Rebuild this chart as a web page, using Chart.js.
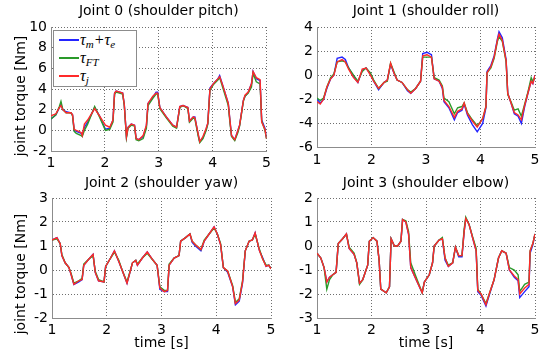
<!DOCTYPE html>
<html>
<head>
<meta charset="utf-8">
<script src="https://cdn.jsdelivr.net/npm/chart.js@4.4.1/dist/chart.umd.min.js"></script>
<style>
  body { margin: 0; background: #fff; }
  #fig { position: relative; width: 550px; height: 360px; background: #fff; overflow: hidden; }
  #fig canvas { position: absolute; }
  #legend {
    position: absolute; left: 53px; top: 30px; width: 82px; height: 55px;
    border: 1px solid #8c8c8c; background: #fff;
    font: italic 16px "Liberation Serif", serif; color: #000;
  }
  #legend .row { position: absolute; left: 0; height: 18px; line-height: 18px; white-space: nowrap; }
  #legend .swatch { position: absolute; left: 5px; top: 8px; width: 20px; border-top: 2px solid; }
  #legend .lbl { position: absolute; left: 26px; top: 0; }
  #legend sub { font-size: 11px; vertical-align: -3px; line-height: 0; }
</style>
</head>
<body>
<div id="fig">
  <canvas id="c0" width="275" height="180" style="left:0;top:0"></canvas>
  <canvas id="c1" width="275" height="180" style="left:275px;top:0"></canvas>
  <canvas id="c2" width="280" height="190" style="left:0;top:170px"></canvas>
  <canvas id="c3" width="275" height="190" style="left:275px;top:170px"></canvas>
  <div id="legend">
    <div class="row" style="top:0"><span class="swatch" style="border-color:#2424ff"></span><span class="lbl">τ<sub>m</sub>+τ<sub>e</sub></span></div>
    <div class="row" style="top:18px"><span class="swatch" style="border-color:#2a9a2a"></span><span class="lbl">τ<sub>FT</sub></span></div>
    <div class="row" style="top:36px"><span class="swatch" style="border-color:#ff2a2a"></span><span class="lbl">τ<sub>j</sub></span></div>
  </div>
</div>
<script>
// ── values ────────────────────────────────────────────────────────
const xTicks = [1, 2, 3, 4, 5];

// Joint 0 (shoulder pitch)
const t0 = [1.00,1.09,1.155,1.185,1.22,1.28,1.37,1.40,1.43,1.47,1.56,1.58,1.62,1.68,1.81,1.90,2.01,2.09,2.15,2.18,
            2.21,2.33,2.36,2.40,2.43,2.49,2.55,2.58,2.63,2.71,2.77,2.80,2.89,2.95,2.98,3.02,3.14,3.26,3.33,3.39,
            3.45,3.54,3.57,3.64,3.67,3.73,3.76,3.82,3.88,3.91,3.95,4.01,4.10,4.13,4.19,4.29,4.32,4.35,4.41,4.47,
            4.50,4.57,4.60,4.66,4.72,4.75,4.81,4.88,4.91,4.97,5.00];
const blue0 = [1.1,1.5,2.2,2.5,2.0,1.8,1.7,1.5,0.0,-0.1,-0.3,-0.5,0.3,0.8,2.2,1.4,0.1,0.2,1.0,3.6,
               3.8,3.6,2.5,-0.6,0.3,0.6,0.5,-0.8,-0.9,-0.6,0.4,2.6,3.2,3.7,3.7,2.2,1.3,0.5,0.3,2.3,
               2.4,2.2,0.9,1.3,1.3,-0.4,-1.1,-0.7,0.1,0.7,4.1,4.5,5.0,5.3,4.3,2.6,1.0,-0.5,-0.9,0.0,
               0.5,2.9,3.3,3.7,4.5,5.7,5.0,4.8,1.0,0.2,-0.7];
const green0 = [1.1,1.5,2.3,2.8,2.0,1.7,1.7,1.4,-0.1,-0.3,-0.5,-0.6,0.0,0.6,2.3,1.3,0.0,0.1,0.8,3.5,
                3.7,3.5,2.4,-0.7,0.2,0.5,0.4,-0.9,-1.0,-0.8,0.2,2.4,3.1,3.5,3.5,2.1,1.2,0.4,0.2,2.2,
                2.4,2.1,0.8,1.2,1.1,-0.5,-1.2,-0.8,0.0,0.6,3.9,4.4,4.9,5.1,4.1,2.4,0.8,-0.6,-1.0,-0.2,
                0.4,2.8,3.3,3.6,4.2,5.5,4.7,4.5,0.9,0.0,-0.8];
const red0 = [1.4,1.6,2.2,2.4,2.0,1.7,1.7,1.5,0.1,0.0,-0.2,-0.5,0.6,1.0,2.1,1.4,0.5,0.3,1.0,3.6,
              3.8,3.6,2.5,-0.6,0.3,0.6,0.5,-0.8,-0.9,-0.5,0.5,2.6,3.3,3.6,3.6,2.2,1.3,0.5,0.3,2.3,
              2.4,2.2,0.9,1.3,1.2,-0.3,-1.1,-0.6,0.2,0.7,4.0,4.5,5.0,5.2,4.3,2.6,1.0,-0.5,-0.9,0.0,
              0.5,2.9,3.4,3.7,4.5,5.7,5.1,4.9,0.8,0.1,-0.8];

// Joint 1 (shoulder roll)
const t1 = [1.00,1.06,1.12,1.18,1.25,1.31,1.37,1.46,1.52,1.58,1.67,1.75,1.83,1.90,1.98,2.04,2.13,2.23,2.29,2.35,
            2.41,2.47,2.56,2.66,2.72,2.81,2.90,2.94,3.02,3.10,3.15,3.24,3.30,3.33,3.42,3.52,3.58,3.66,3.70,3.76,
            3.85,3.94,4.04,4.10,4.12,4.19,4.25,4.31,4.34,4.40,4.47,4.50,4.56,4.62,4.69,4.75,4.81,4.87,4.93,4.96,
            5.00];
const blue1 = [-2.0,-2.3,-2.0,-1.1,-0.3,0.0,1.4,1.5,1.3,0.6,-0.1,-0.6,0.4,0.6,0.1,-0.5,-1.2,-0.6,-0.4,0.9,
               0.2,-0.4,-0.6,-1.3,-1.5,-1.1,-0.5,1.8,1.9,1.7,-0.3,-0.5,-1.1,-2.2,-2.7,-3.7,-3.1,-2.9,-2.4,-3.3,
               -4.1,-4.7,-4.0,-2.7,0.3,0.8,1.6,3.0,3.6,3.1,1.3,-1.5,-2.3,-3.2,-3.4,-4.0,-2.6,-1.5,-0.5,-0.7,
               0.0];
const green1 = [-1.9,-2.1,-1.9,-1.0,-0.2,0.1,1.1,1.2,1.1,0.6,0.0,-0.5,0.3,0.6,0.2,-0.4,-1.1,-0.6,-0.5,1.0,
                0.3,-0.4,-0.6,-1.2,-1.4,-1.1,-0.5,1.5,1.5,1.5,-0.2,-0.4,-0.9,-1.9,-2.2,-3.2,-2.7,-2.6,-2.3,-3.1,
                -3.7,-4.2,-3.6,-2.6,0.2,0.6,1.4,2.8,3.2,2.8,1.1,-1.6,-2.2,-2.9,-2.8,-3.4,-2.4,-1.4,-0.2,-0.5,
                -0.2];
const red1 = [-2.2,-2.4,-2.0,-1.0,-0.3,0.0,1.1,1.3,1.1,0.5,-0.2,-0.6,0.5,0.6,0.0,-0.5,-1.1,-0.6,-0.4,1.0,
              0.2,-0.4,-0.6,-1.2,-1.5,-1.1,-0.5,1.6,1.7,1.5,-0.3,-0.5,-1.0,-2.1,-2.6,-3.5,-3.0,-2.8,-2.3,-3.2,
              -3.8,-4.3,-3.6,-2.6,0.2,0.7,1.5,2.9,3.4,2.9,1.2,-1.5,-2.3,-3.1,-3.3,-3.7,-2.5,-1.5,-0.5,-0.7,
              0.0];

// Joint 2 (shoulder yaw)
const t2 = [1.00,1.09,1.15,1.18,1.24,1.31,1.35,1.40,1.49,1.55,1.58,1.67,1.75,1.79,1.85,1.95,1.98,2.07,2.14,2.22,
            2.28,2.37,2.47,2.53,2.56,2.65,2.74,2.83,2.92,2.97,3.05,3.11,3.14,3.23,3.32,3.35,3.44,3.52,3.56,3.62,
            3.72,3.78,3.87,3.96,4.02,4.08,4.13,4.21,4.30,4.35,4.42,4.48,4.53,4.60,4.66,4.71,4.79,4.85,4.91,4.96,
            5.00];
const blue2 = [1.25,1.35,1.1,0.6,0.3,0.1,-0.2,-0.6,-0.5,-0.4,0.2,0.45,0.65,-0.1,-0.45,-0.5,0.15,0.5,0.8,0.35,
               0.0,-0.55,0.3,0.4,0.2,0.5,0.75,0.45,0.2,-0.8,-0.9,-0.9,0.2,0.5,0.6,1.2,1.35,1.5,1.15,1.0,
               0.8,1.2,1.5,1.8,1.5,1.05,0.1,-0.1,-0.7,-1.45,-1.3,-0.55,0.8,1.2,1.25,1.55,0.8,0.5,0.15,0.2,
               0.05];
const green2 = [1.25,1.3,1.1,0.65,0.3,0.1,-0.15,-0.55,-0.45,-0.35,0.25,0.45,0.6,-0.05,-0.4,-0.5,0.15,0.5,0.75,0.4,
                0.0,-0.5,0.3,0.4,0.25,0.5,0.7,0.45,0.2,-0.7,-0.85,-0.85,0.25,0.5,0.6,1.2,1.35,1.5,1.2,1.05,
                0.85,1.25,1.5,1.75,1.5,1.1,0.1,-0.05,-0.65,-1.35,-1.2,-0.45,0.8,1.2,1.25,1.5,0.85,0.45,0.2,0.2,
                0.05];
const red2 = [1.25,1.35,1.1,0.6,0.3,0.1,-0.2,-0.6,-0.45,-0.4,0.2,0.45,0.65,-0.1,-0.45,-0.5,0.15,0.5,0.8,0.35,
              0.0,-0.55,0.3,0.4,0.2,0.5,0.75,0.45,0.2,-0.75,-0.9,-0.85,0.2,0.5,0.6,1.2,1.35,1.5,1.2,1.05,
              0.85,1.2,1.5,1.8,1.5,1.05,0.1,-0.05,-0.7,-1.4,-1.25,-0.5,0.8,1.2,1.25,1.55,0.8,0.45,0.15,0.2,
              0.05];

// Joint 3 (shoulder elbow)
const t3 = [1.00,1.07,1.13,1.18,1.23,1.29,1.35,1.39,1.47,1.54,1.59,1.68,1.73,1.78,1.84,1.93,1.96,2.03,2.10,2.14,
            2.17,2.27,2.33,2.36,2.42,2.48,2.54,2.57,2.63,2.68,2.72,2.82,2.93,2.97,3.06,3.12,3.15,3.24,3.30,3.35,
            3.41,3.49,3.54,3.60,3.66,3.70,3.73,3.79,3.86,3.92,3.95,4.01,4.10,4.16,4.25,4.33,4.39,4.47,4.53,4.62,
            4.69,4.72,4.81,4.89,4.91,4.96,5.00];
const blue3 = [-0.3,-0.5,-0.9,-1.5,-1.3,-1.2,-1.1,0.1,0.3,0.5,-0.1,-0.35,-0.7,-1.55,-1.4,-0.8,0.2,0.35,0.2,-0.6,
               -1.8,-1.95,-1.7,0.3,0.0,0.0,0.2,1.1,1.0,0.5,-0.9,-1.4,-1.95,-1.5,-1.2,-0.7,0.0,0.25,0.3,-0.6,
               -0.85,-0.7,-0.05,-0.45,-0.45,0.6,1.15,0.9,0.3,-0.2,-1.9,-2.05,-2.5,-2.05,-1.4,-0.5,-0.2,-0.3,-1.0,-1.3,
               -1.45,-2.15,-1.9,-1.7,-0.3,0.05,0.5];
const green3 = [-0.3,-0.5,-0.9,-1.8,-1.4,-1.2,-1.1,0.1,0.3,0.5,-0.05,-0.3,-0.7,-1.6,-1.4,-0.8,0.2,0.35,0.2,-0.6,
                -1.8,-1.95,-1.7,0.3,0.0,0.0,0.2,1.1,1.05,0.6,-0.7,-1.3,-1.95,-1.5,-1.2,-0.7,0.0,0.25,0.35,-0.5,
                -0.8,-0.7,-0.05,-0.4,-0.4,0.7,1.2,0.9,0.35,-0.1,-1.8,-2.0,-2.4,-2.0,-1.4,-0.5,-0.2,-0.3,-0.9,-1.0,
                -1.2,-1.9,-1.6,-1.5,-0.2,0.1,0.5];
const red3 = [-0.3,-0.5,-0.9,-1.5,-1.3,-1.2,-1.1,0.1,0.3,0.5,-0.1,-0.35,-0.7,-1.55,-1.4,-0.8,0.2,0.35,0.2,-0.6,
              -1.8,-1.95,-1.7,0.3,0.0,0.0,0.2,1.1,1.0,0.5,-0.9,-1.4,-1.95,-1.5,-1.2,-0.7,0.0,0.25,0.3,-0.5,
              -0.85,-0.7,-0.05,-0.4,-0.4,0.6,1.15,0.9,0.3,-0.2,-1.85,-2.0,-2.45,-2.0,-1.4,-0.5,-0.2,-0.3,-1.0,-1.25,
              -1.4,-2.0,-1.75,-1.6,-0.2,0.1,0.5];

// ── styling ───────────────────────────────────────────────────────
const FONT = { family: '"DejaVu Sans", sans-serif', size: 14 };
const COL = { blue: '#2424ff', green: '#2a9a2a', red: '#ff2a2a' };
const GRID = '#6e6e6e';
const AXIS = '#8c8c8c';

// rotated y label drawn at a fixed spot (MATLAB puts it a bit low)
const yLabelPlugin = {
    id: 'yLabel',
    afterDraw(chart, args, opts) {
        if (!opts || !opts.text) return;
        const ctx = chart.ctx;
        ctx.save();
        ctx.translate(opts.x, opts.y);
        ctx.rotate(-Math.PI / 2);
        ctx.font = `${FONT.size}px ${FONT.family}`;
        ctx.fillStyle = '#000';
        ctx.textAlign = 'center';
        ctx.textBaseline = 'middle';
        ctx.fillText(opts.text, 0, 0);
        ctx.restore();
    }
};

function pts(t, v) {
    return t.map((x, i) => ({ x, y: v[i] }));
}

function series(label, t, v, color, order) {
    return {
        label, data: pts(t, v), borderColor: color, borderWidth: 1.4,
        pointRadius: 0, tension: 0, fill: false, order
    };
}

// p: { id, title, t, blue, green, red, yMin, yMax, yStep, w, h, area:[l,r,t,b], titlePad:[top,bottom], xTitle, yLabel }
function buildPanel(p) {
    const [aL, aR, aT, aB] = p.area;
    return new Chart(document.getElementById(p.id), {
        type: 'line',
        data: {
            datasets: [
                series('\u03c4m+\u03c4e', p.t, p.blue, COL.blue, 3),
                series('\u03c4FT', p.t, p.green, COL.green, 2),
                series('\u03c4j', p.t, p.red, COL.red, 1)
            ]
        },
        options: {
            responsive: false,
            animation: false,
            events: [],
            layout: { padding: { left: 0, right: p.w - aR, top: 0, bottom: 0 } },
            scales: {
                x: {
                    type: 'linear', min: 1, max: 5,
                    afterBuildTicks: s => { s.ticks = xTicks.map(value => ({ value })); },
                    afterFit: s => { s.height = p.h - aB; },
                    grid: { color: GRID, lineWidth: 1, drawTicks: false },
                    border: { color: AXIS, width: 1, dash: [1, 2] },
                    ticks: { color: '#000', font: FONT, padding: 4, maxRotation: 0 },
                    title: {
                        display: !!p.xTitle, text: 'time [s]', color: '#000', font: FONT,
                        padding: { top: 0, bottom: 8 }
                    }
                },
                y: {
                    min: p.yMin, max: p.yMax,
                    afterFit: s => { s.width = aL; },
                    grid: { color: GRID, lineWidth: 1, drawTicks: false },
                    border: { color: AXIS, width: 1, dash: [1, 2] },
                    ticks: { color: '#000', font: FONT, padding: 4, stepSize: p.yStep }
                }
            },
            plugins: {
                legend: { display: false },
                tooltip: { enabled: false },
                title: {
                    display: true, text: p.title, color: '#000',
                    font: { ...FONT, weight: 'normal' }, fullSize: false,
                    padding: { top: p.titlePad[0], bottom: p.titlePad[1] }
                },
                yLabel: p.yLabel || {}
            }
        },
        plugins: [yLabelPlugin]
    });
}

buildPanel({ id: 'c0', title: 'Joint 0 (shoulder pitch)', t: t0, blue: blue0, green: green0, red: red0,
    yMin: -2, yMax: 10, yStep: 2, w: 275, h: 180, area: [51, 267, 27, 151], titlePad: [3, 7.2],
    yLabel: { text: 'joint torque [Nm]', x: 21, y: 96 } });
buildPanel({ id: 'c1', title: 'Joint 1 (shoulder roll)', t: t1, blue: blue1, green: green1, red: red1,
    yMin: -6, yMax: 4, yStep: 2, w: 275, h: 180, area: [42, 260, 27, 147.5], titlePad: [3, 7.2] });
buildPanel({ id: 'c2', title: 'Joint 2 (shoulder yaw)', t: t2, blue: blue2, green: green2, red: red2,
    yMin: -2, yMax: 3, yStep: 1, w: 280, h: 190, area: [52, 271, 28, 148], titlePad: [5, 6.2],
    xTitle: true, yLabel: { text: 'joint torque [Nm]', x: 21, y: 104 } });
buildPanel({ id: 'c3', title: 'Joint 3 (shoulder elbow)', t: t3, blue: blue3, green: green3, red: red3,
    yMin: -3, yMax: 2, yStep: 1, w: 275, h: 190, area: [42, 260, 28, 148], titlePad: [5, 6.2],
    xTitle: true });
</script>
</body>
</html>
